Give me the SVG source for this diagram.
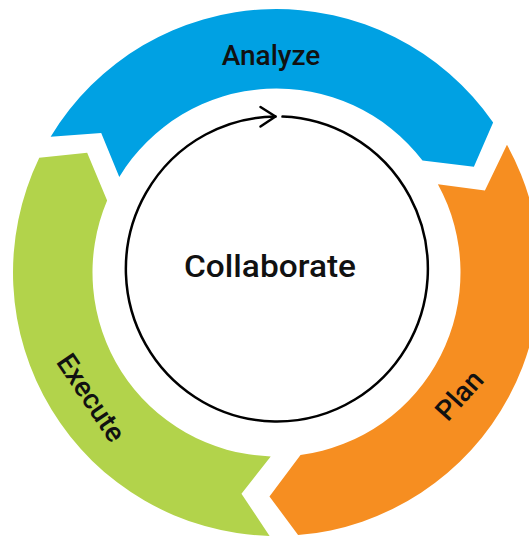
<svg xmlns="http://www.w3.org/2000/svg" xmlns:xlink="http://www.w3.org/1999/xlink" width="529" height="538" viewBox="0 0 529 538">
  <style>
    .lbl { font-family: "Roboto", "Liberation Sans", sans-serif; font-weight: 500; fill: #111; text-anchor: middle; }
    .ring { stroke: none; }
    .loop { fill: none; stroke: #000; stroke-width: 2.5; stroke-linecap: round; stroke-linejoin: round; }
  </style>
  <defs>
    <path id="seg" d="M 50.64 136.79 A 263.5 263.5 0 0 1 493.13 122.5 L 473.91 166.65 L 422.48 160.49 A 184 184 0 0 0 119.28 176.91 L 101.2 133.06 Z"/>
  </defs>
  <rect width="529" height="538" fill="#fff"/>
  <g id="analyze">
    <use xlink:href="#seg" href="#seg" class="ring" fill="#00A1E3"/>
    <text class="lbl" x="271" y="65" font-size="28">Analyze</text>
  </g>
  <g id="plan">
    <use xlink:href="#seg" href="#seg" class="ring" fill="#F68E21" transform="rotate(120 276.5 272.5)"/>
    <text class="lbl" font-size="28" transform="translate(459 395) rotate(-48)" x="0" y="10">Plan</text>
  </g>
  <g id="execute">
    <use xlink:href="#seg" href="#seg" class="ring" fill="#B2D34B" transform="rotate(240.5 276.5 272.5)"/>
    <text class="lbl" font-size="28" transform="translate(91.5 397.5) rotate(56)" x="0" y="10">Execute</text>
  </g>
  <g id="collaborate">
    <text class="lbl" x="270" y="277" font-size="32" textLength="172" lengthAdjust="spacingAndGlyphs">Collaborate</text>
  </g>
  <g id="connectors">
    <path class="loop" d="M 282.5 116.6 A 151 152.5 0 1 1 275.5 116.5"/>
    <polyline class="loop" points="260.5,107 275.5,116.5 260.5,126.5"/>
  </g>
</svg>
